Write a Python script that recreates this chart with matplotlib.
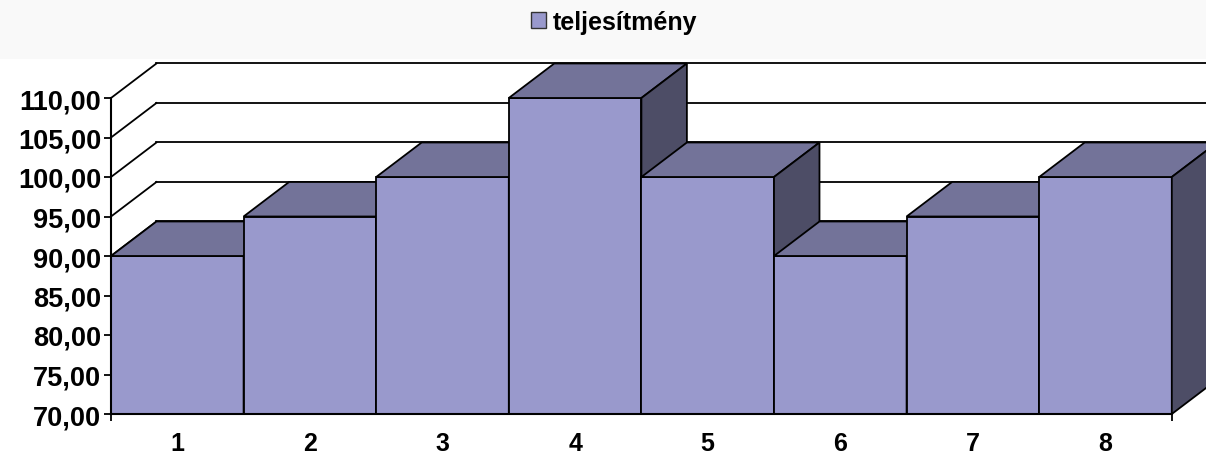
import numpy as np
from matplotlib import pyplot as plt
from matplotlib.patches import Polygon, Rectangle, Patch
from matplotlib.ticker import FixedLocator, FuncFormatter

categories = ['1', '2', '3', '4', '5', '6', '7', '8']
teljesitmeny = [90, 95, 100, 110, 100, 90, 95, 100]
series_name = 'teljesítmény'
y_ticks = [70, 75, 80, 85, 90, 95, 100, 105, 110]

plt.rcParams['font.family'] = ['Liberation Sans', 'DejaVu Sans']
plt.rcParams['font.weight'] = 'bold'

front_c = '#9999cc'
top_c = '#737399'
side_c = '#4d4d66'
edge = 'black'
lw = 1.3

# fake 3d depth, in data units
dx, dy = 0.343, 4.37
base = 70

fig = plt.figure(figsize=(12.06, 4.56), dpi=100)
fig.patches.append(Rectangle((0, 396 / 456), 1, 60 / 456, transform=fig.transFigure,
                             facecolor='#f9f9f9', edgecolor='none', zorder=0))

ax = fig.add_axes([111 / 1206, 0, 1095 / 1206, 396 / 456])
ax.set_xlim(0, 1095 / 132.6)
ax.set_ylim(70 - 41 / 7.9, 70 + 355 / 7.9)
ax.patch.set_visible(False)

# back wall and left wall gridlines
n = len(categories)
for v in y_ticks:
    ax.plot([0, dx], [v, v + dy], color=edge, lw=lw, zorder=1, clip_on=False)
    ax.plot([dx, ax.get_xlim()[1] + 1], [v + dy, v + dy], color=edge, lw=lw, zorder=1, clip_on=False)

# bars, left to right so later ones hide the sides of earlier ones
for i, v in enumerate(teljesitmeny):
    x0, x1 = i, i + 1
    z = 2 + i
    ax.add_patch(Polygon([(x0, base), (x1, base), (x1, v), (x0, v)], closed=True,
                         facecolor=front_c, edgecolor=edge, lw=lw, zorder=z))
    ax.add_patch(Polygon([(x0, v), (x1, v), (x1 + dx, v + dy), (x0 + dx, v + dy)], closed=True,
                         facecolor=top_c, edgecolor=edge, lw=lw, zorder=z))
    ax.add_patch(Polygon([(x1, base), (x1 + dx, base + dy), (x1 + dx, v + dy), (x1, v)], closed=True,
                         facecolor=side_c, edgecolor=edge, lw=lw, zorder=z, clip_on=False))

for s in ['top', 'right']:
    ax.spines[s].set_visible(False)
ax.spines['left'].set_bounds(70, 110)
ax.spines['bottom'].set_position(('data', 70))
ax.spines['bottom'].set_bounds(0, n)
for s in ['left', 'bottom']:
    ax.spines[s].set_linewidth(1.5)
    ax.spines[s].set_zorder(20)

ax.set_yticks(y_ticks)
ax.yaxis.set_major_formatter(FuncFormatter(lambda v, p: f'{v:.2f}'.replace('.', ',')))
ax.tick_params(axis='y', length=5, width=1.3, pad=2, labelsize=19.5)

ax.set_xticks(np.arange(n) + 0.5)
ax.set_xticklabels(categories)
ax.xaxis.set_minor_locator(FixedLocator([0, n]))
ax.tick_params(axis='x', which='major', length=0, pad=12, labelsize=18)
ax.tick_params(axis='x', which='minor', length=5, width=1.3)

fig.legend(handles=[Patch(facecolor=front_c, edgecolor='#333333', label=series_name)],
           loc='center', bbox_to_anchor=(614 / 1206, 1 - 23 / 456), frameon=False,
           prop={'weight': 'bold', 'size': 18}, handlelength=0.6, handleheight=0.6,
           handletextpad=0.3)

fig.savefig('out.png', dpi=100)
